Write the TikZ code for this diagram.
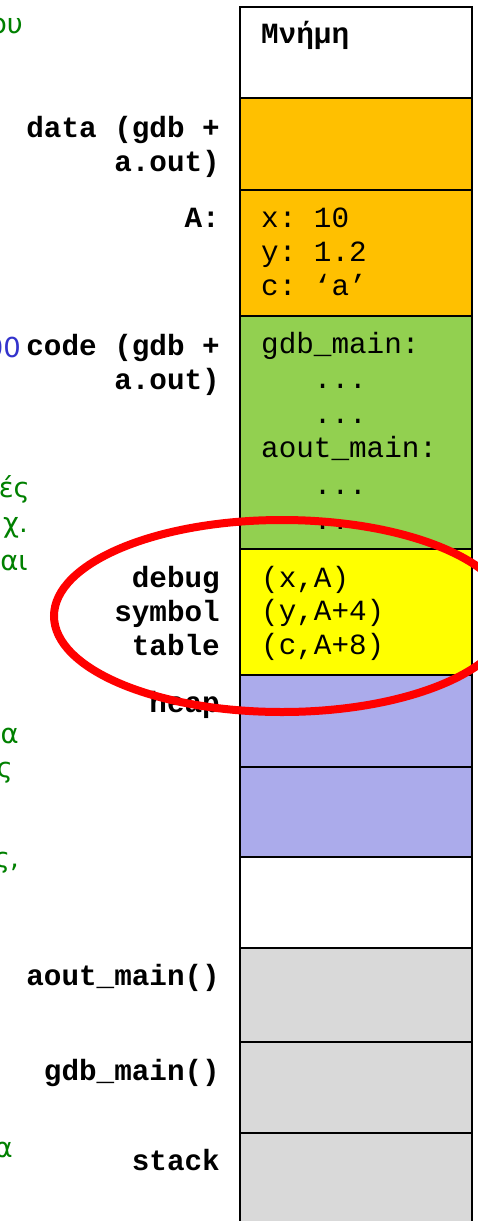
\documentclass[tikz,border=0pt]{standalone}
\usepackage{fontspec}
\setmonofont{Liberation Mono}
\newfontfamily\grkfont{DejaVu Sans}
\definecolor{dataorange}{RGB}{255,192,0}
\definecolor{codegreen}{RGB}{146,208,80}
\definecolor{symyellow}{RGB}{255,255,0}
\definecolor{heapblue}{RGB}{171,171,235}
\definecolor{stackgray}{RGB}{217,217,217}
\definecolor{fraggreen}{RGB}{0,128,0}
\definecolor{fragblue}{RGB}{51,51,204}
\definecolor{ringred}{RGB}{255,0,0}
\begin{document}
\begin{tikzpicture}[x=1pt,y=-1pt,
  lbl/.style={anchor=base east, inner sep=0pt, font=\ttfamily\bfseries\fontsize{29.3}{34}\selectfont},
  val/.style={anchor=base west, inner sep=0pt, font=\ttfamily\fontsize{29.3}{34}\selectfont},
  frag/.style={anchor=base east, inner sep=0pt, text=fraggreen, font=\grkfont\fontsize{27.5}{32}\selectfont},
  cell/.style={draw=black, line width=1.8pt}]
\useasboundingbox (0,0) rectangle (478,1221);
\clip (0,0) rectangle (478,1221);

% memory column
\draw[cell, fill=white]      (240,7)   rectangle (472,98);
\draw[cell, fill=dataorange] (240,98)  rectangle (472,190);
\draw[cell, fill=dataorange] (240,190) rectangle (472,316);
\draw[cell, fill=codegreen]  (240,316) rectangle (472,549);
\draw[cell, fill=symyellow]  (240,549) rectangle (472,675);
\draw[cell, fill=heapblue]   (240,675) rectangle (472,767);
\draw[cell, fill=heapblue]   (240,767) rectangle (472,857);
\draw[cell, fill=white]      (240,857) rectangle (472,948);
\draw[cell, fill=stackgray]  (240,948) rectangle (472,1042);
\draw[cell, fill=stackgray]  (240,1042) rectangle (472,1133);
\draw[cell, fill=stackgray]  (240,1133) rectangle (472,1240);

% texts inside the column
\node[val, font=\ttfamily\bfseries\fontsize{29.3}{34}\selectfont] (mem) at (261,43) {Μνήμη};
\node[val] (vx) at (261,227) {x: 10};
\node[val] (vy) at (261,261) {y: 1.2};
\node[val] (vc) at (261,295) {c: ‘a’};
\node[val] (c1) at (261,353) {gdb\_main:};
\node[val] (c2) at (261,388) {\phantom{xxx}...};
\node[val] (c3) at (261,423) {\phantom{xxx}...};
\node[val] (c4) at (261,457) {aout\_main:};
\node[val] (c5) at (261,494) {\phantom{xxx}...};
\node[val] (c6) at (261,529) {\phantom{xxx}...};
\node[val] (s1) at (261,587) {(x,A)};
\node[val] (s2) at (261,620) {(y,A+4)};
\node[val] (s3) at (261,654) {(c,A+8)};

% labels on the left of the column
\node[lbl] (l1a) at (220,137) {data (gdb +};
\node[lbl] (l1b) at (220,171) {a.out)};
\node[lbl] (l2)  at (220,227) {A:};
\node[lbl] (l3a) at (220,355) {code (gdb +};
\node[lbl] (l3b) at (220,389) {a.out)};
\node[lbl] (l4a) at (220,587) {debug};
\node[lbl] (l4b) at (220,621) {symbol};
\node[lbl] (l4c) at (220,655) {table};
\node[lbl] (l5)  at (220,712) {heap};
\node[lbl] (l6)  at (220,985) {aout\_main()};
\node[lbl] (l7)  at (220,1080) {gdb\_main()};
\node[lbl] (l8)  at (220,1170) {stack};

% cut-off fragments at the left margin
\node[frag] (f1) at (23,33) {ου};
\node[frag, text=fragblue] (f2) at (21,357) {00};
\node[frag] (f3) at (30,497) {ές};
\node[frag] (f4) at (28,532) {χ.};
\node[frag] (f5) at (28,570) {αι};
\node[frag] (f6) at (19,743) {α};
\node[frag] (f7) at (13,777) {ς};
\node[frag] (f8) at (19,867) {ς,};
\node[frag] (f9) at (13,1157) {α};

% red ring
\draw[ringred, line width=8pt] (282,616) ellipse [x radius=228pt, y radius=96pt];
\end{tikzpicture}
\end{document}
